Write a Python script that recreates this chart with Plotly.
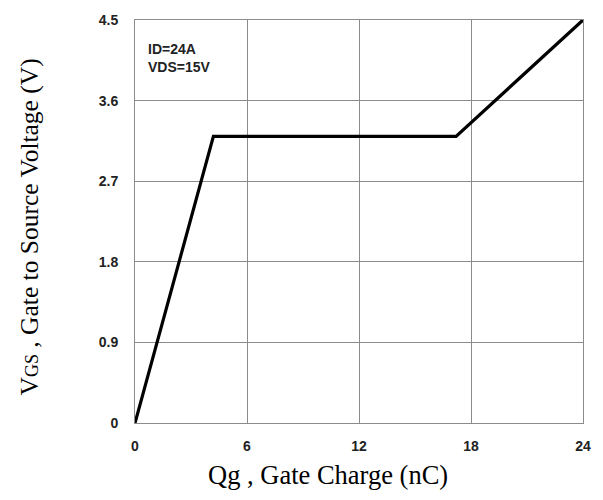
import plotly.graph_objects as go

qg = [0, 4.2, 17.2, 24]
vgs = [0, 3.2, 3.2, 4.5]
x_ticks = [0, 6, 12, 18, 24]
y_ticks = [0, 0.9, 1.8, 2.7, 3.6, 4.5]
y_tick_labels = ["0", "0.9", "1.8", "2.7", "3.6", "4.5"]
notes = ["ID=24A", "VDS=15V"]

fig = go.Figure()
fig.add_trace(go.Scatter(x=qg, y=vgs, mode="lines",
                         line=dict(color="black", width=3.2),
                         showlegend=False, hoverinfo="skip"))

grid = "#8c8c8c"
tickfont = dict(family="Liberation Sans, Arial", size=14, color="#222")
fig.update_xaxes(range=[0, 24], tickvals=x_ticks,
                 ticktext=["<b>%d</b>" % v for v in x_ticks],
                 showgrid=True, gridcolor=grid, gridwidth=1,
                 showline=True, linecolor=grid, linewidth=1, mirror=True,
                 zeroline=False, ticks="", tickfont=tickfont, ticklabelstandoff=10)
fig.update_yaxes(range=[0, 4.5], tickvals=y_ticks,
                 ticktext=["<b>%s</b>" % t for t in y_tick_labels],
                 showgrid=True, gridcolor=grid, gridwidth=1,
                 showline=True, linecolor=grid, linewidth=1, mirror=True,
                 zeroline=False, ticks="", tickfont=tickfont, ticklabelstandoff=13)

fig.update_layout(
    width=603, height=500,
    margin=dict(l=135, r=20, t=15, b=77),
    paper_bgcolor="white", plot_bgcolor="white",
    font=dict(family="Liberation Sans, Arial", color="black"),
    annotations=[
        dict(text="<b>" + notes[0] + "</b><br><b>" + notes[1] + "</b>",
             xref="paper", yref="paper", x=0, y=1, xshift=11, yshift=-19,
             xanchor="left", yanchor="top", align="left", showarrow=False,
             font=dict(family="Liberation Sans, Arial", size=14, color="#222")),
        dict(text="Qg , Gate Charge (nC)", xref="paper", yref="paper",
             x=0.5, y=0, xshift=-31, yshift=-52, xanchor="center", yanchor="middle",
             showarrow=False,
             font=dict(family="Liberation Serif, Times New Roman", size=26.5, color="black")),
        dict(text="V<span style='font-size:18px'>GS</span> , Gate to Source Voltage (V)",
             xref="paper", yref="paper", x=0, y=0.5, xshift=-106, yshift=-6,
             xanchor="center", yanchor="middle", textangle=-90, showarrow=False,
             font=dict(family="Liberation Serif, Times New Roman", size=25.5, color="black")),
    ],
)

fig.write_html("out.html")
